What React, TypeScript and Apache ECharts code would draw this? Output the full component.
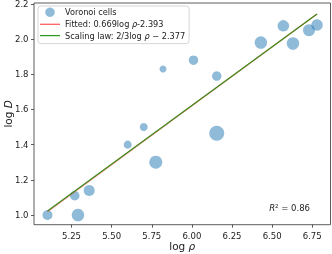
import React, { useEffect, useRef } from "react";
import * as echarts from "echarts";

const xs = [5.10, 5.29, 5.27, 5.36, 5.60, 5.70, 5.775, 5.82, 6.01, 6.155, 6.155, 6.43, 6.57, 6.63, 6.73, 6.78];
const ys = [1.00, 1.00, 1.11, 1.14, 1.40, 1.50, 1.30, 1.83, 1.88, 1.79, 1.465, 1.98, 2.075, 1.975, 2.05, 2.08];
const sizes = [10, 12.5, 9.5, 11, 8, 8, 13, 7, 9.5, 9.5, 15, 12.5, 11.5, 12.5, 12, 11.5];

const fittedLine = [[5.10, 1.019], [6.78, 2.143]];
const scalingLine = [[5.10, 1.023], [6.78, 2.143]];

const xTicks = [5.25, 5.5, 5.75, 6.0, 6.25, 6.5, 6.75];
const yTicks = [1.0, 1.2, 1.4, 1.6, 1.8, 2.0, 2.2];

const FONT = "DejaVu Sans";
const LINE_ICON = "path://M0,0 L20,0 L20,1.3 L0,1.3 Z";

export default function App() {
  const ref = useRef<HTMLDivElement>(null);
  useEffect(() => {
    const chart = echarts.init(ref.current!, null, { renderer: "svg" });
    const rich = {
      i: { fontStyle: "italic", fontFamily: FONT, fontSize: 8.2, color: "#222" },
    };
    const nameStyle = {
      fontFamily: FONT,
      fontSize: 10.5,
      color: "#222",
      rich: { i: { fontStyle: "italic", fontFamily: FONT, fontSize: 10.5, color: "#222" } },
    };
    chart.setOption({
      animation: false,
      grid: {
        left: 34,
        top: 3,
        right: 1.5,
        bottom: 29.3,
        show: true,
        borderColor: "#333",
        borderWidth: 0.8,
        containLabel: false,
        outerBoundsMode: "none",
      },
      legend: {
        orient: "vertical",
        left: 38,
        top: 6,
        padding: [1.5, 4, 4, 2],
        itemWidth: 20,
        itemHeight: 9.5,
        itemGap: 3.3,
        borderColor: "#ccc",
        borderWidth: 0.8,
        borderRadius: 3,
        backgroundColor: "rgba(255,255,255,0.8)",
        textStyle: { fontFamily: FONT, fontSize: 8.2, color: "#222", rich },
        formatter: (name: string) => name.replace("ρ", "{i|ρ}"),
        data: [
          { name: "Voronoi cells", icon: "circle" },
          { name: "Fitted: 0.669log ρ-2.393", icon: LINE_ICON, itemStyle: { color: "#ff6060" } },
          { name: "Scaling law: 2/3log ρ − 2.377", icon: LINE_ICON, itemStyle: { color: "#2e9a22" } },
        ],
      },
      xAxis: {
        type: "value",
        min: 5.016,
        max: 6.864,
        name: "log {i|ρ}",
        nameLocation: "middle",
        nameGap: 16,
        nameMoveOverlap: false,
        nameTextStyle: nameStyle,
        axisLine: { show: false },
        splitLine: { show: false },
        axisTick: { show: true, length: 3, customValues: xTicks, lineStyle: { color: "#333", width: 0.8 } },
        axisLabel: {
          customValues: xTicks,
          formatter: (v: number) => v.toFixed(2),
          fontFamily: FONT,
          fontSize: 8.5,
          color: "#222",
          margin: 6.5,
        },
      },
      yAxis: {
        type: "value",
        min: 0.945,
        max: 2.205,
        name: "log {i|D}",
        nameLocation: "middle",
        nameGap: 21,
        nameRotate: 90,
        nameMoveOverlap: false,
        nameTextStyle: nameStyle,
        axisLine: { show: false },
        splitLine: { show: false },
        axisTick: { show: true, length: 3, customValues: yTicks, lineStyle: { color: "#333", width: 0.8 } },
        axisLabel: {
          customValues: yTicks,
          formatter: (v: number) => v.toFixed(1),
          fontFamily: FONT,
          fontSize: 8.5,
          color: "#222",
          margin: 5.5,
        },
      },
      graphic: [
        {
          type: "text",
          right: 22,
          top: 203,
          style: {
            text: "{i|R}{s|2} = 0.86",
            fontFamily: FONT,
            fontSize: 8.5,
            fill: "#222",
            rich: {
              i: { fontStyle: "italic", fontFamily: FONT, fontSize: 8.5, fill: "#222" },
              s: { fontFamily: FONT, fontSize: 5.5, fill: "#222", verticalAlign: "top" },
            },
          },
        },
      ],
      series: [
        {
          name: "Voronoi cells",
          type: "scatter",
          data: xs.map((x, i) => [x, ys[i], sizes[i]]),
          symbolSize: (d: number[]) => d[2],
          itemStyle: { color: "#1f77b4", opacity: 0.5 },
        },
        {
          name: "Fitted: 0.669log ρ-2.393",
          type: "line",
          data: fittedLine,
          symbol: "none",
          lineStyle: { color: "#ff4040", width: 1.3, opacity: 0.6 },
          itemStyle: { color: "#ff6060" },
        },
        {
          name: "Scaling law: 2/3log ρ − 2.377",
          type: "line",
          data: scalingLine,
          symbol: "none",
          lineStyle: { color: "#3c8c1c", width: 1.2, opacity: 1 },
          itemStyle: { color: "#2e9a22" },
        },
      ],
    });
    return () => chart.dispose();
  }, []);
  return (
    <div
      ref={ref}
      style={{ position: "fixed", left: 0, top: 0, width: 332, height: 254 }}
    />
  );
}
